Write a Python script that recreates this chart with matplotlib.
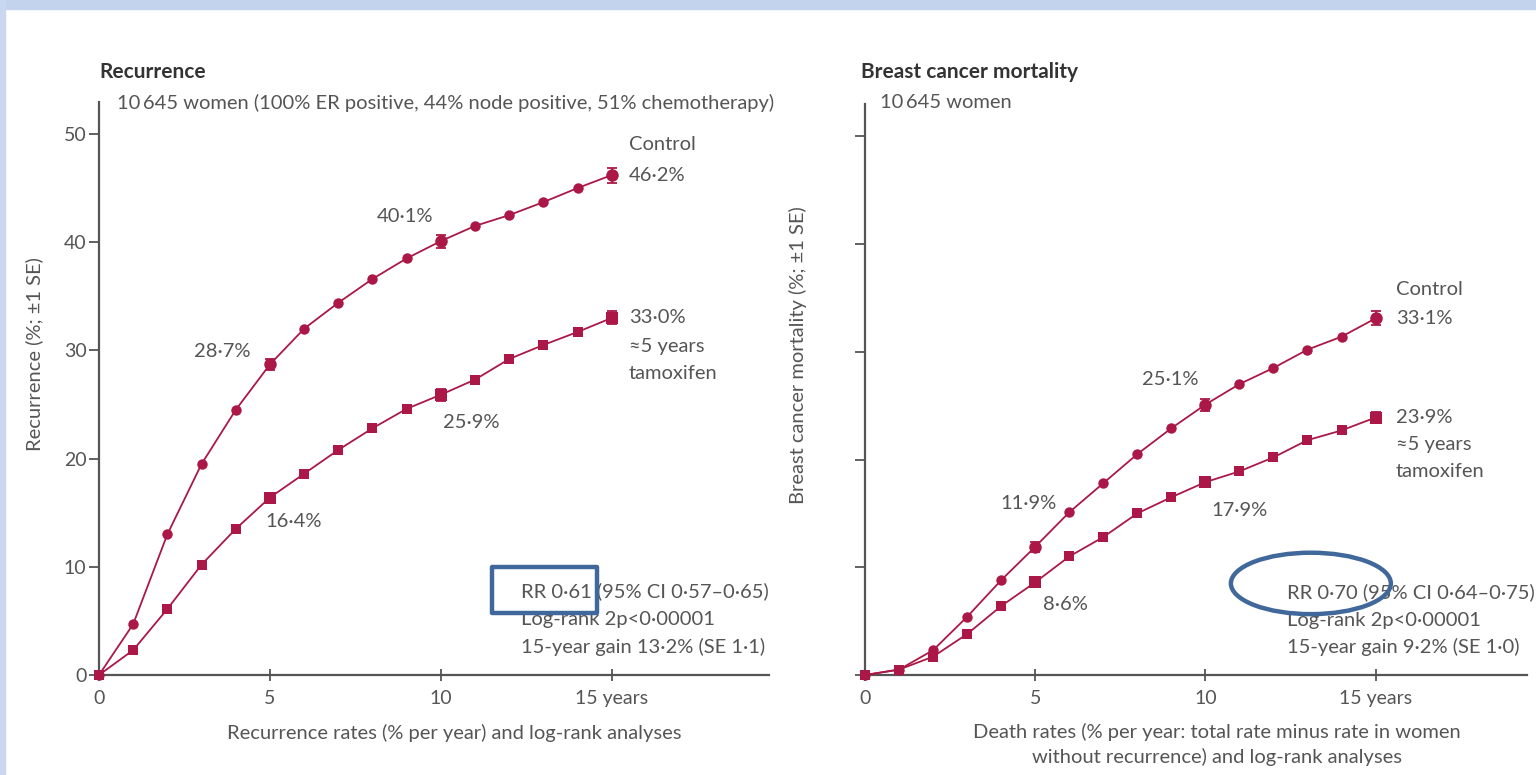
import matplotlib
matplotlib.use("Agg")
import matplotlib.pyplot as plt
from matplotlib.patches import Rectangle, Ellipse

plt.rcParams['font.family'] = ['Lato', 'DejaVu Sans']

# ---- data -------------------------------------------------------------
years = list(range(0, 16))

rec_control = [0, 4.7, 13.0, 19.5, 24.5, 28.7, 32.0, 34.4, 36.6, 38.5,
               40.1, 41.5, 42.5, 43.7, 45.0, 46.2]
rec_tam = [0, 2.3, 6.1, 10.2, 13.5, 16.4, 18.6, 20.8, 22.8, 24.6,
           25.9, 27.3, 29.2, 30.5, 31.7, 33.0]

mort_control = [0, 0.5, 2.3, 5.4, 8.8, 11.9, 15.1, 17.8, 20.5, 22.9,
                25.1, 27.0, 28.5, 30.2, 31.4, 33.1]
mort_tam = [0, 0.5, 1.7, 3.8, 6.4, 8.6, 11.0, 12.8, 15.0, 16.5,
            17.9, 18.9, 20.2, 21.8, 22.7, 23.9]

se_years = [5, 10, 15]
rec_control_se = [0.5, 0.6, 0.7]
rec_tam_se = [0.45, 0.55, 0.6]
mort_control_se = [0.45, 0.55, 0.65]
mort_tam_se = [0.4, 0.45, 0.5]

x_ticks = [0, 5, 10, 15]
x_ticklabels = ['0', '5', '10', '15 years']
y_ticks = [0, 10, 20, 30, 40, 50]

RED = '#ab1848'
GREY = '#555555'
BOX = '#40689a'

fig = plt.figure(figsize=(15.36, 7.75), dpi=100)
W, H = 1536, 775

# light blue frame
fig.patches.append(Rectangle((0, 1 - 9 / H), 1, 9 / H, transform=fig.transFigure,
                             color='#c3d3ee', zorder=0))
fig.patches.append(Rectangle((0, 0), 5 / W, 1, transform=fig.transFigure,
                             color='#c9d7f0', zorder=0))

ax1 = fig.add_axes([99 / W, 100 / H, (769 - 99) / W, 573.5 / H])
ax2 = fig.add_axes([865 / W, 100 / H, (1527 - 865) / W, 571 / H])

fs = 14.5
tfs = 14


def style(ax, xmax, ylabels):
    ax.set_xlim(0, xmax)
    ax.set_ylim(0, 53)
    for s in ('top', 'right'):
        ax.spines[s].set_visible(False)
    for s in ('left', 'bottom'):
        ax.spines[s].set_color('#555555')
        ax.spines[s].set_linewidth(1.6)
    ax.set_xticks(x_ticks)
    ax.set_xticklabels(x_ticklabels)
    ax.set_yticks(y_ticks)
    if ylabels:
        ax.set_yticklabels([str(v) for v in y_ticks])
    else:
        ax.set_yticklabels([])
    ax.tick_params(axis='x', direction='inout', length=9, width=1.3,
                   colors='#555555', labelsize=tfs, labelcolor=GREY, pad=6)
    ax.tick_params(axis='y', direction='out', length=7, width=1.3,
                   colors='#555555', labelsize=tfs, labelcolor=GREY, pad=2)
    ax.patch.set_alpha(0)


style(ax1, 19.6, True)
style(ax2, 19.45, False)


def curve(ax, y, se, marker):
    ax.plot(years, y, color=RED, lw=1.3, marker=marker, markersize=7.5,
            markeredgewidth=0, clip_on=False, zorder=3)
    sel = [y[i] for i in se_years]
    ax.errorbar(se_years, sel, yerr=se, fmt='none', ecolor=RED, elinewidth=1.3,
                capsize=3.5, capthick=1.3, zorder=3)
    ax.plot(se_years, sel, ls='none', marker=marker, markersize=9, color=RED,
            markeredgewidth=0, zorder=4)


curve(ax1, rec_control, rec_control_se, 'o')
curve(ax1, rec_tam, rec_tam_se, 's')
curve(ax2, mort_control, mort_control_se, 'o')
curve(ax2, mort_tam, mort_tam_se, 's')

kw = dict(fontsize=fs, color=GREY)


def pct(v):
    return f"{v:.1f}%".replace('.', '\u00b7')


# ---- left panel text --------------------------------------------------
fig.text(99 / W, 1 - 72 / H, 'Recurrence', fontsize=15, fontweight='bold',
         color='#333333', ha='left', va='center')
fig.text(117 / W, 1 - 103 / H,
         '10\u2009645 women (100% ER positive, 44% node positive, 51% chemotherapy)',
         ha='left', va='center', **kw)
ax1.set_ylabel('Recurrence (%; \u00b11 SE)', fontsize=fs, color=GREY)
ax1.yaxis.set_label_coords(-56 / 670, 0.56)
ax1.set_xlabel('Recurrence rates (% per year) and log-rank analyses',
               fontsize=fs, color=GREY)
ax1.xaxis.set_label_coords((454 - 99) / 670, -49 / 573.5)

ax1.text(15.5, 49.0, 'Control', ha='left', va='center', **kw)
ax1.text(15.5, rec_control[15], pct(rec_control[15]), ha='left', va='center', **kw)
ax1.text(8.95, 42.4, pct(rec_control[10]), ha='center', va='center', **kw)
ax1.text(3.6, 29.9, pct(rec_control[5]), ha='center', va='center', **kw)
ax1.text(15.5, rec_tam[15], pct(rec_tam[15]), ha='left', va='center', **kw)
ax1.text(15.5, 30.4, '\u22485 years', ha='left', va='center', **kw)
ax1.text(15.5, 27.9, 'tamoxifen', ha='left', va='center', **kw)
ax1.text(10.9, 23.3, pct(rec_tam[10]), ha='center', va='center', **kw)
ax1.text(5.7, 14.2, pct(rec_tam[5]), ha='center', va='center', **kw)
ax1.text(12.34, 7.7, 'RR 0\u00b761 (95% CI 0\u00b757\u20130\u00b765)', ha='left', va='center', **kw)
ax1.text(12.34, 5.1, 'Log-rank 2p<0\u00b700001', ha='left', va='center', **kw)
ax1.text(12.34, 2.6, '15-year gain 13\u00b72% (SE 1\u00b71)', ha='left', va='center', **kw)
ax1.add_patch(Rectangle((11.5, 5.75), 3.08, 4.2, fill=False, edgecolor=BOX,
                        lw=3.2, clip_on=False, zorder=5, joinstyle='round'))

# ---- right panel text -------------------------------------------------
fig.text(861 / W, 1 - 72 / H, 'Breast cancer mortality', fontsize=15,
         fontweight='bold', color='#333333', ha='left', va='center')
fig.text(880 / W, 1 - 103 / H, '10\u2009645 women', ha='left', va='center', **kw)
ax2.set_ylabel('Breast cancer mortality (%; \u00b11 SE)', fontsize=fs, color=GREY)
ax2.yaxis.set_label_coords(-58 / 662, 0.56)
ax2.set_xlabel('Death rates (% per year: total rate minus rate in women\n'
               'without recurrence) and log-rank analyses',
               fontsize=fs, color=GREY, linespacing=1.45)
ax2.xaxis.set_label_coords((1217 - 865) / 662, -48 / 571)

ax2.text(15.6, 35.8, 'Control', ha='left', va='center', **kw)
ax2.text(15.6, mort_control[15], pct(mort_control[15]), ha='left', va='center', **kw)
ax2.text(8.97, 27.4, pct(mort_control[10]), ha='center', va='center', **kw)
ax2.text(4.8, 15.9, pct(mort_control[5]), ha='center', va='center', **kw)
ax2.text(15.6, mort_tam[15], pct(mort_tam[15]), ha='left', va='center', **kw)
ax2.text(15.6, 21.4, '\u22485 years', ha='left', va='center', **kw)
ax2.text(15.6, 18.9, 'tamoxifen', ha='left', va='center', **kw)
ax2.text(11.0, 15.3, pct(mort_tam[10]), ha='center', va='center', **kw)
ax2.text(5.9, 6.5, pct(mort_tam[5]), ha='center', va='center', **kw)
ax2.text(12.4, 7.7, 'RR 0\u00b770 (95% CI 0\u00b764\u20130\u00b775)', ha='left', va='center', **kw)
ax2.text(12.4, 5.1, 'Log-rank 2p<0\u00b700001', ha='left', va='center', **kw)
ax2.text(12.4, 2.6, '15-year gain 9\u00b72% (SE 1\u00b70)', ha='left', va='center', **kw)
ax2.add_patch(Ellipse((13.1, 8.5), 4.7, 5.7, fill=False, edgecolor=BOX,
                      lw=3.2, clip_on=False, zorder=5))

fig.savefig('out.png', dpi=100)
